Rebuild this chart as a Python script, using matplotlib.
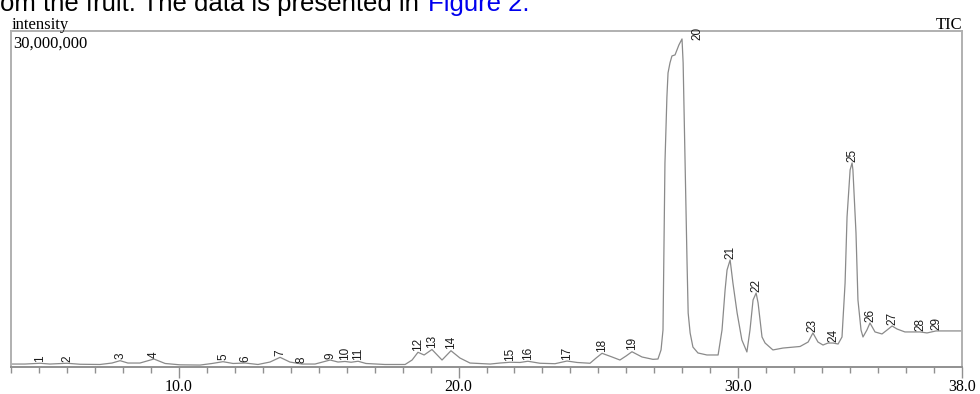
#!/usr/bin/env python3
# -*- coding: utf-8 -*-

import matplotlib
matplotlib.use("Agg")
import matplotlib.pyplot as plt
from matplotlib.ticker import MultipleLocator, FixedLocator, NullLocator
import numpy as np

# TIC trace: retention time (min), intensity (millions)
TIME = [4.00, 4.50, 5.04, 5.39, 6.00, 6.47, 7.18, 7.61, 7.90, 8.18, 8.61, 9.11,
        9.51, 10.04, 10.76, 11.19, 11.58, 11.94, 12.37, 12.83, 13.26, 13.62,
        13.97, 14.40, 14.87, 15.41, 15.69, 15.94, 16.16, 16.41, 16.69, 17.37,
        18.09, 18.34, 18.55, 18.77, 19.05, 19.41, 19.73, 20.05, 20.41, 21.13,
        21.48, 21.84, 22.20, 22.48, 22.91, 23.45, 23.88, 24.24, 24.70, 24.92,
        25.13, 25.49, 25.77, 25.99, 26.20, 26.56, 26.95, 27.13, 27.24, 27.31,
        27.38, 27.45, 27.49, 27.56, 27.63, 27.74, 27.81, 27.88, 27.99, 28.03,
        28.10, 28.17, 28.21, 28.28, 28.38, 28.56, 28.88, 29.28, 29.42, 29.53,
        29.60, 29.71, 29.81, 29.96, 30.13, 30.31, 30.42, 30.53, 30.64, 30.71,
        30.85, 30.96, 31.24, 31.60, 32.21, 32.50, 32.67, 32.85, 33.03, 33.21,
        33.39, 33.57, 33.71, 33.82, 33.89, 34.00, 34.07, 34.10, 34.21, 34.28,
        34.39, 34.46, 34.60, 34.71, 34.89, 35.14, 35.32, 35.50, 35.68, 35.96,
        36.50, 36.75, 37.07, 37.46, 38.00]
INTENSITY = [0.22, 0.22, 0.29, 0.22, 0.29, 0.20, 0.18, 0.31, 0.52, 0.31, 0.31, 0.67,
             0.27, 0.15, 0.13, 0.27, 0.43, 0.27, 0.31, 0.18, 0.40, 0.82,
             0.40, 0.22, 0.22, 0.58, 0.40, 0.45, 0.38, 0.47, 0.27, 0.18,
             0.18, 0.58, 1.27, 1.03, 1.52, 0.58, 1.41, 0.76, 0.31, 0.22,
             0.31, 0.38, 0.36, 0.47, 0.29, 0.25, 0.49, 0.36, 0.29, 0.76,
             1.18, 0.85, 0.58, 0.94, 1.32, 0.85, 0.64, 0.67, 1.48, 3.26,
             18.20, 24.11, 26.25, 27.15, 27.77, 27.86, 28.31, 28.76, 29.29, 27.15,
             18.20, 9.26, 4.79, 3.00, 1.74, 1.21, 1.03, 1.03, 3.26, 6.84,
             8.63, 9.53, 7.47, 4.79, 2.37, 1.30, 3.26, 5.95, 6.57, 5.68,
             2.64, 2.10, 1.48, 1.65, 1.79, 2.19, 3.00, 2.19, 1.92, 2.10,
             2.10, 2.01, 2.64, 7.47, 13.37, 17.58, 18.20, 17.58, 11.94, 5.95,
             3.26, 2.64, 3.26, 3.89, 3.09, 2.91, 3.26, 3.62, 3.35, 3.09,
             3.09, 3.00, 3.18, 3.18, 3.18]

# numbered peaks: apex time (min) and apex intensity (millions)
PEAK_NO = list(range(1, 30))
PEAK_TIME = [5.04, 6.00, 7.90, 9.11, 11.58, 12.37, 13.62, 14.40, 15.41, 15.94,
             16.41, 18.55, 19.05, 19.73, 21.84, 22.48, 23.88, 25.13, 26.20, 27.99,
             29.71, 30.64, 32.67, 33.39, 34.07, 34.71, 35.50, 36.50, 37.07]
PEAK_INT = [0.29, 0.29, 0.52, 0.67, 0.43, 0.31, 0.82, 0.22, 0.58, 0.45,
            0.47, 1.27, 1.52, 1.41, 0.38, 0.47, 0.49, 1.18, 1.32, 29.29,
            9.53, 6.57, 3.00, 2.10, 18.20, 3.89, 3.62, 3.09, 3.18]

X_MAJOR = [10, 20, 30, 38]
Y_MAX = 30.0

W, H = 980, 394
fig = plt.figure(figsize=(W / 100, H / 100), dpi=100)

# clipped caption line from the surrounding document
cap_y = 1 - 11 / H
t1 = fig.text(0, cap_y, "om the fruit. The data is presented in ",
              family="Liberation Sans", fontsize=18.5, va="baseline", ha="left")
r = fig.canvas.get_renderer()
x_end = t1.get_window_extent(r).x1 / W
fig.text(x_end + 2 / W, cap_y, "Figure 2.", family="Liberation Sans",
         fontsize=18.5, va="baseline", ha="left", color="#0000ee")

ax = fig.add_axes([11 / W, (H - 366.5) / H, 951 / W, 335.5 / H])
ax.plot(TIME, INTENSITY, color="#8a8a8a", lw=0.9, solid_joinstyle="round")
ax.set_xlim(4, 38)
ax.set_ylim(0, Y_MAX)

for s in ["left", "top", "right"]:
    ax.spines[s].set_color("#b0b0b0")
    ax.spines[s].set_linewidth(1.4)
ax.spines["bottom"].set_color("#909090")
ax.spines["bottom"].set_linewidth(1.4)

ax.yaxis.set_major_locator(NullLocator())
ax.xaxis.set_major_locator(FixedLocator(X_MAJOR))
ax.xaxis.set_minor_locator(MultipleLocator(1))
ax.set_xticklabels([f"{v:.1f}" for v in X_MAJOR], family="Liberation Serif",
                   fontsize=11.5)
ax.tick_params(axis="x", which="major", length=8, width=1, color="#909090", pad=1)
ax.tick_params(axis="x", which="minor", length=4, width=1, color="#909090")

for n, pt, pi in zip(PEAK_NO, PEAK_TIME, PEAK_INT):
    if n == 20:
        ax.annotate(str(n), (pt, pi), xytext=(11, -1), textcoords="offset points",
                    rotation=90, ha="center", va="bottom", fontsize=8.5,
                    family="Liberation Sans", color="#1a1a1a",
                    annotation_clip=False)
    else:
        ax.annotate(str(n), (pt, pi), xytext=(0, 1), textcoords="offset points",
                    rotation=90, ha="center", va="bottom", fontsize=8.5,
                    family="Liberation Sans", color="#1a1a1a")

ax.text(0.002, 0.985, "30,000,000", transform=ax.transAxes, ha="left", va="top",
        family="Liberation Serif", fontsize=12)
fig.text(12 / W, 1 - 29 / H, "intensity", ha="left", va="baseline",
         family="Liberation Serif", fontsize=12)
fig.text(962 / W, 1 - 29 / H, "TIC", ha="right", va="baseline",
         family="Liberation Serif", fontsize=12)

fig.savefig("out.png", dpi=100)
